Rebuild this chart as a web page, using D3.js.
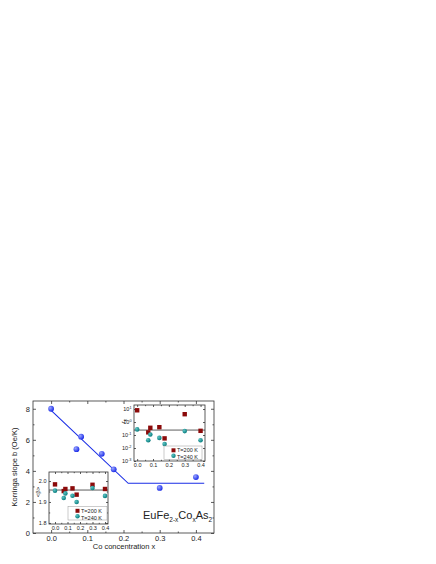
<!DOCTYPE html>
<html>
<head>
<meta charset="utf-8">
<script src="https://cdn.jsdelivr.net/npm/d3@7"></script>
<style>
  body { margin: 0; background: #fff; }
  svg { display: block; font-family: "Liberation Sans", Arial, sans-serif; }
  .axis path { display: none; }
  .axis line { stroke: #333; stroke-width: 0.8; }
</style>
</head>
<body>
<script>
// Main panel: Korringa slope vs Co concentration
const coX = [0, 0.07, 0.083, 0.14, 0.173, 0.3, 0.4];
const slopeB = [8.0, 5.4, 6.2, 5.1, 4.1, 2.9, 3.6];
const fitX = [0, 0.213, 0.423];
const fitY = [7.9, 3.2, 3.2];

// Upper inset: r_K on log scale
const rK200 = [8, 0.16, 0.36, 0.4, 0.055, 4, 0.21];
const rK240 = [0.27, 0.04, 0.11, 0.06, 0.02, 0.2, 0.04];
const rKLine = 0.24;

// Lower inset: <beta>
const beta200 = [1.984, 1.952, 1.962, 1.965, 1.935, 1.982, 1.962];
const beta240 = [1.954, 1.919, 1.941, 1.93, 1.90, 1.967, 1.929];
const betaLine = 1.957;

const legendLabels = ['T=200 K', 'T=240 K'];
const xMajor = [0, 0.1, 0.2, 0.3, 0.4];
const xMinor = [0.05, 0.15, 0.25, 0.35];

const svg = d3.select('body').append('svg')
    .attr('width', 436)
    .attr('height', 564);

const defs = svg.append('defs');
function sphere(id, c0, c1) {
    const g = defs.append('radialGradient').attr('id', id)
        .attr('cx', '35%').attr('cy', '35%').attr('r', '65%');
    g.append('stop').attr('offset', '0%').attr('stop-color', c0);
    g.append('stop').attr('offset', '100%').attr('stop-color', c1);
}
sphere('blueBall', '#9aa6ff', '#1f2fe8');
sphere('tealBall', '#5cc4c4', '#0b7f80');

// draw a boxed frame with inward ticks on all four sides
function frame(g, x, y, xTicks, xMin, yTicks, yMin, opt) {
    const [x0, x1] = x.range();
    const [y0, y1] = y.range();
    const mj = opt.major, mn = opt.minor;
    g.append('rect').attr('x', x0).attr('y', y1)
        .attr('width', x1 - x0).attr('height', y0 - y1)
        .attr('fill', opt.fill || 'none')
        .attr('stroke', '#333').attr('stroke-width', 0.8);

    const bx = g.append('g').attr('class', 'axis').attr('transform', `translate(0,${y0})`)
        .call(d3.axisBottom(x).tickValues(xTicks).tickSize(-mj).tickPadding(opt.pad).tickFormat(d3.format('.1f')));
    bx.selectAll('text').attr('font-size', opt.font).attr('fill', '#222');
    g.append('g').attr('class', 'axis').attr('transform', `translate(0,${y0})`)
        .call(d3.axisBottom(x).tickValues(xMin).tickSize(-mn).tickFormat(''));
    g.append('g').attr('class', 'axis').attr('transform', `translate(0,${y1})`)
        .call(d3.axisTop(x).tickValues(xTicks).tickSize(-mj).tickFormat(''));
    g.append('g').attr('class', 'axis').attr('transform', `translate(0,${y1})`)
        .call(d3.axisTop(x).tickValues(xMin).tickSize(-mn).tickFormat(''));

    const ly = g.append('g').attr('class', 'axis').attr('transform', `translate(${x0},0)`)
        .call(d3.axisLeft(y).tickValues(yTicks).tickSize(-mj).tickPadding(opt.pad).tickFormat(opt.yFmt));
    ly.selectAll('text').attr('font-size', opt.font).attr('fill', '#222');
    g.append('g').attr('class', 'axis').attr('transform', `translate(${x0},0)`)
        .call(d3.axisLeft(y).tickValues(yMin).tickSize(-mn).tickFormat(''));
    g.append('g').attr('class', 'axis').attr('transform', `translate(${x1},0)`)
        .call(d3.axisRight(y).tickValues(yTicks).tickSize(-mj).tickFormat(''));
    g.append('g').attr('class', 'axis').attr('transform', `translate(${x1},0)`)
        .call(d3.axisRight(y).tickValues(yMin).tickSize(-mn).tickFormat(''));
    return ly;
}

// ---- main panel ----
const x = d3.scaleLinear().domain([-0.05, 0.45]).range([33, 214]);
const y = d3.scaleLinear().domain([0, 8.5]).range([533, 401]);
const main = svg.append('g');
frame(main, x, y, xMajor, xMinor, [0, 2, 4, 6, 8], [1, 3, 5, 7],
    { major: 3, minor: 1.5, pad: 3, font: 7.5, yFmt: d3.format('d') });

main.append('path')
    .datum(fitX.map((d, i) => [d, fitY[i]]))
    .attr('d', d3.line().x(d => x(d[0])).y(d => y(d[1])))
    .attr('fill', 'none').attr('stroke', '#1a2ee6').attr('stroke-width', 1.1);

main.selectAll('.ball').data(coX).join('circle')
    .attr('class', 'ball')
    .attr('cx', d => x(d))
    .attr('cy', (d, i) => y(slopeB[i]))
    .attr('r', 2.9)
    .attr('fill', 'url(#blueBall)');

main.append('text')
    .attr('transform', `translate(17,${(401 + 533) / 2}) rotate(-90)`)
    .attr('text-anchor', 'middle').attr('font-size', 7.5).attr('fill', '#222')
    .text('Korringa slope b (Oe/K)');
main.append('text')
    .attr('x', 124).attr('y', 549)
    .attr('text-anchor', 'middle').attr('font-size', 7.5).attr('fill', '#222')
    .text('Co concentration x');

const formula = main.append('text').attr('x', 143).attr('y', 519)
    .attr('font-size', 11).attr('fill', '#222');
[['EuFe', 0], ['2-x', 1], ['Co', 0], ['x', 1], ['As', 0], ['2', 1]].forEach(([t, sub], i) => {
    formula.append('tspan')
        .attr('font-size', sub ? 6.5 : 11)
        .attr('dy', i === 0 ? 0 : (sub ? 2.5 : -2.5))
        .text(t);
});

// legend box with a red square and a teal ball
function legend(g, bx, by, w, h) {
    g.append('rect').attr('x', bx).attr('y', by).attr('width', w).attr('height', h)
        .attr('fill', '#fff').attr('stroke', '#999').attr('stroke-width', 0.5);
    g.append('rect').attr('x', bx + 7.5).attr('y', by + 2.3).attr('width', 4).attr('height', 4)
        .attr('fill', '#8b0a0a');
    g.append('circle').attr('cx', bx + 9.5).attr('cy', by + 9.8).attr('r', 2.2)
        .attr('fill', 'url(#tealBall)');
    legendLabels.forEach((t, i) => {
        g.append('text').attr('x', bx + 13).attr('y', by + 6.3 + i * 7)
            .attr('font-size', 5.5).attr('fill', '#222').text(t);
    });
}

// ---- upper inset: r_K ----
const x1 = d3.scaleLinear().domain([-0.02, 0.428]).range([134, 205]);
const y1 = d3.scaleLog().domain([1e-3, Math.pow(10, 1.31)]).range([461, 405]);
const ins1 = svg.append('g');
const ly1 = frame(ins1, x1, y1, xMajor, xMinor, [1e-3, 1e-2, 1e-1, 1, 10], [],
    { major: 2, minor: 1.2, pad: 2.5, font: 5.5, fill: '#fff', yFmt: d3.format('') });
ly1.selectAll('text').each(function(d) {
    const t = d3.select(this).text('10');
    t.append('tspan').attr('dy', -2).attr('font-size', 3.8).text(Math.round(Math.log10(d)));
});

ins1.append('line')
    .attr('x1', x1.range()[0]).attr('x2', x1.range()[1])
    .attr('y1', y1(rKLine)).attr('y2', y1(rKLine))
    .attr('stroke', '#333').attr('stroke-width', 0.8);
ins1.selectAll('.sq').data(coX).join('rect').attr('class', 'sq')
    .attr('x', d => x1(d) - 2.2)
    .attr('y', (d, i) => y1(rK200[i]) - 2.2)
    .attr('width', 4.4).attr('height', 4.4).attr('fill', '#8b0a0a');
ins1.selectAll('.tc').data(coX).join('circle').attr('class', 'tc')
    .attr('cx', d => x1(d))
    .attr('cy', (d, i) => y1(rK240[i]))
    .attr('r', 2.3).attr('fill', 'url(#tealBall)');
legend(ins1, 164, 446, 38, 13.5);
const rl = ins1.append('text')
    .attr('transform', 'translate(125,421) rotate(-90)')
    .attr('text-anchor', 'middle').attr('font-size', 6).attr('fill', '#222');
rl.append('tspan').text('r');
rl.append('tspan').attr('dy', 1.5).attr('font-size', 4).text('K');

// ---- lower inset: <beta> ----
const x2 = d3.scaleLinear().domain([-0.048, 0.424]).range([49, 108]);
const y2 = d3.scaleLinear().domain([1.795, 2.043]).range([524, 472]);
const ins2 = svg.append('g');
frame(ins2, x2, y2, xMajor, xMinor, [1.8, 1.9, 2.0], [1.85, 1.95],
    { major: 2, minor: 1.2, pad: 2.5, font: 5.5, fill: '#fff', yFmt: d3.format('.1f') });

ins2.append('line')
    .attr('x1', x2.range()[0]).attr('x2', x2.range()[1])
    .attr('y1', y2(betaLine)).attr('y2', y2(betaLine))
    .attr('stroke', '#333').attr('stroke-width', 0.8);
ins2.selectAll('.sq').data(coX).join('rect').attr('class', 'sq')
    .attr('x', d => x2(d) - 2.2)
    .attr('y', (d, i) => y2(beta200[i]) - 2.2)
    .attr('width', 4.4).attr('height', 4.4).attr('fill', '#8b0a0a');
ins2.selectAll('.tc').data(coX).join('circle').attr('class', 'tc')
    .attr('cx', d => x2(d))
    .attr('cy', (d, i) => y2(beta240[i]))
    .attr('r', 2.3).attr('fill', 'url(#tealBall)');
legend(ins2, 68, 506.5, 39, 13.5);
ins2.append('text')
    .attr('transform', 'translate(40,492) rotate(-90)')
    .attr('text-anchor', 'middle').attr('font-size', 6).attr('fill', '#222')
    .text('<β>');
</script>
</body>
</html>
